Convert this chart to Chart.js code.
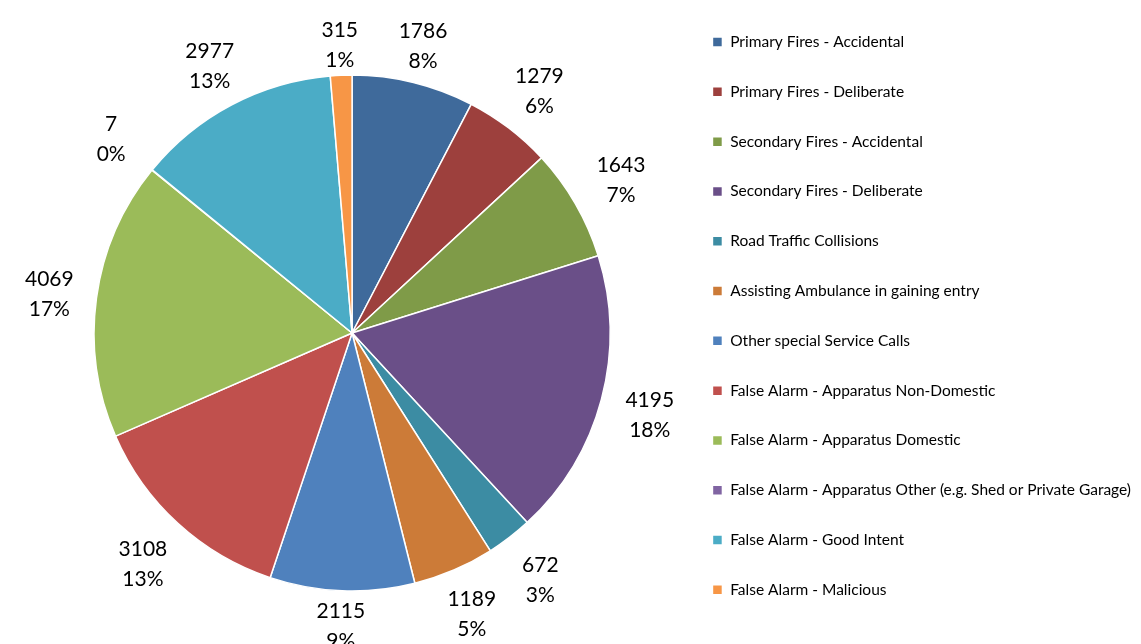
<!DOCTYPE html>
<html>
<head>
<meta charset="utf-8">
<script src="https://cdn.jsdelivr.net/npm/chart.js@4.4.0/dist/chart.umd.min.js"></script>
<style>
    html, body { margin: 0; padding: 0; background: #fff; }
    #wrap { width: 1141px; height: 644px; position: relative; }
</style>
</head>
<body>
<div id="wrap"><canvas id="incidentPie"></canvas></div>
<script>
"use strict";

var categories = [
    "Primary Fires - Accidental",
    "Primary Fires - Deliberate",
    "Secondary Fires - Accidental",
    "Secondary Fires - Deliberate",
    "Road Traffic Collisions",
    "Assisting Ambulance in gaining entry",
    "Other special Service Calls",
    "False Alarm - Apparatus Non-Domestic",
    "False Alarm - Apparatus Domestic",
    "False Alarm - Apparatus Other (e.g. Shed or Private Garage)",
    "False Alarm - Good Intent",
    "False Alarm - Malicious"
];
var incidents = [ 1786, 1279, 1643, 4195, 672, 1189, 2115, 3108, 4069, 7, 2977, 315 ];
var sliceColours = [ "#3F6A9B", "#9D403D", "#7F9B48", "#6A4F88", "#3C8CA3", "#CC7B38",
                     "#4F81BD", "#C0504D", "#9BBB59", "#8064A2", "#4BACC6", "#F79646" ];

// excel style percentages: largest remainder so they add up to 100
function roundedPercents(values) {
    var total = values.reduce(function (a, b) { return a + b; }, 0);
    var raw = values.map(function (v) { return v / total * 100; });
    var out = raw.map(Math.floor);
    var left = 100 - out.reduce(function (a, b) { return a + b; }, 0);
    var order = raw.map(function (r, i) { return i; }).sort(function (a, b) {
        return (raw[b] - Math.floor(raw[b])) - (raw[a] - Math.floor(raw[a]));
    });
    for (var k = 0; k < left; k++) {
        out[order[k]] += 1;
    }
    return out;
}

// move pie centre down a little without squashing the legend
var nudgePie = {
    id: "nudgePie",
    afterLayout: function (chart) {
        chart.chartArea.top += 22;
        chart.chartArea.height -= 22;
    }
};

var outsideLabels = {
    id: "outsideLabels",
    afterDatasetsDraw: function (chart) {
        var ctx = chart.ctx;
        var meta = chart.getDatasetMeta(0);
        var pcts = roundedPercents(incidents);
        ctx.save();
        ctx.font = "21px Lato";
        ctx.fillStyle = "#000";
        ctx.textAlign = "center";
        ctx.textBaseline = "middle";
        meta.data.forEach(function (arc, i) {
            var p = arc.getProps([ "x", "y", "startAngle", "endAngle", "outerRadius" ], true);
            var mid = (p.startAngle + p.endAngle) / 2;
            var cx = Math.cos(mid), cy = Math.sin(mid);
            var dist = p.outerRadius + Math.abs(cx) * 42 + Math.abs(cy) * 29 + 2;
            var x = p.x + cx * dist, y = p.y + cy * dist + 3;
            ctx.fillText(String(incidents[i]), x, y - 15);
            ctx.fillText(pcts[i] + "%", x, y + 15);
        });
        ctx.restore();
    }
};

new Chart(document.getElementById("incidentPie"), {
    type   : "pie",
    data   : {
        labels  : categories,
        datasets: [ {
            data           : incidents,
            backgroundColor: sliceColours,
            borderColor    : "#fff",
            borderWidth    : 1.5,
            radius         : 258
        } ]
    },
    options: {
        responsive         : true,
        maintainAspectRatio: false,
        animation          : false,
        layout             : {
            padding: { left: 26, right: 0 }
        },
        plugins            : {
            legend : {
                position: "right",
                align   : "start",
                labels  : {
                    boxWidth : 10,
                    boxHeight: 10,
                    padding  : 34.3,
                    color    : "#000",
                    font     : { family: "Lato", size: 15.5 }
                }
            },
            tooltip: { enabled: false }
        }
    },
    plugins: [ nudgePie, outsideLabels ]
});
</script>
</body>
</html>
